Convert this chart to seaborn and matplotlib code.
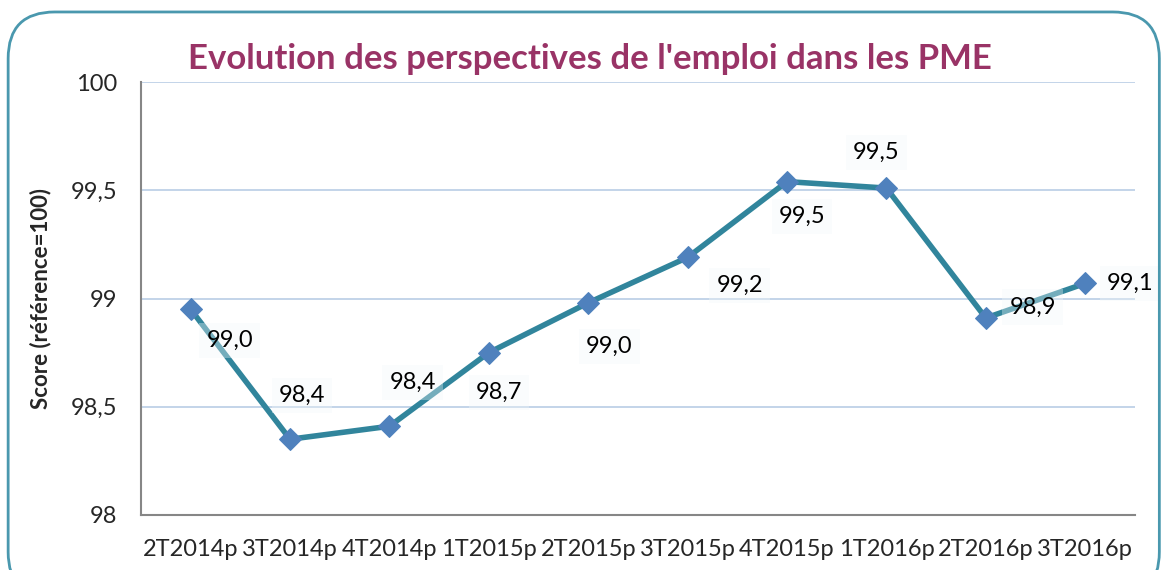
import matplotlib
matplotlib.use('Agg')
import matplotlib.pyplot as plt
from matplotlib.patches import FancyBboxPatch
import pandas as pd
import seaborn as sns

quarters = ['2T2014p', '3T2014p', '4T2014p', '1T2015p', '2T2015p',
            '3T2015p', '4T2015p', '1T2016p', '2T2016p', '3T2016p']
scores = [98.95, 98.35, 98.41, 98.75, 98.98, 99.19, 99.54, 99.51, 98.91, 99.07]
labels = ['99,0', '98,4', '98,4', '98,7', '99,0', '99,2', '99,5', '99,5', '98,9', '99,1']
# label offsets in pixels (dx, dy)
offsets = [(39, -31), (12, 44), (23, 44), (10, -40), (21, -44),
           (52, -28), (15, -35), (-10, 36), (47, 11), (45, 0)]

df = pd.DataFrame({'trimestre': quarters, 'score': scores})

sns.set_theme(style='white')
plt.rcParams['font.family'] = ['Lato', 'DejaVu Sans']

fig = plt.figure(figsize=(11.64, 5.7), dpi=100)
ax = fig.add_axes([0.1211, 0.0965, 0.8539, 0.7596])

sns.lineplot(data=df, x='trimestre', y='score', sort=False, ax=ax,
             color='#31859C', linewidth=4, marker='D', markersize=11,
             markerfacecolor='#4F81BD', markeredgecolor='#4F81BD', zorder=3)

for i, (lab, (dx, dy)) in enumerate(zip(labels, offsets)):
    ax.annotate(lab, (i, scores[i]), xytext=(dx, dy), textcoords='offset pixels',
                ha='center', va='center', fontsize=17, color='black', zorder=4,
                bbox=dict(boxstyle='square,pad=0.3', fc='#F3F9FA', ec='none', alpha=0.35))

ax.set_xlim(-0.5, 9.5)
ax.set_ylim(98, 100)
ax.set_yticks([98, 98.5, 99, 99.5, 100])
ax.set_yticklabels(['98', '98,5', '99', '99,5', '100'], fontsize=17)
ax.tick_params(axis='x', labelsize=17, pad=17, length=0)
ax.tick_params(axis='y', pad=17, length=0)
ax.yaxis.grid(True, color='#B9CDE5', linewidth=1.2)
ax.set_axisbelow(True)
for s in ['top', 'right']:
    ax.spines[s].set_visible(False)
for s in ['left', 'bottom']:
    ax.spines[s].set_color('#868686')
    ax.spines[s].set_linewidth(1.5)
ax.set_xlabel('')
ax.set_ylabel('Score (référence=100)', fontsize=16, fontweight='bold', labelpad=14)

fig.text(0.507, 0.897, "Evolution des perspectives de l'emploi dans les PME",
         ha='center', va='center', fontsize=25, fontweight='bold', color='#993366')

border = FancyBboxPatch((0.007, -0.05), 0.989, 1.029, transform=fig.transFigure,
                        boxstyle='round,pad=0,rounding_size=0.04', fc='none',
                        ec='#4A98AE', lw=2, mutation_aspect=1164 / 570)
fig.patches.append(border)

fig.savefig('out.png', dpi=100)
